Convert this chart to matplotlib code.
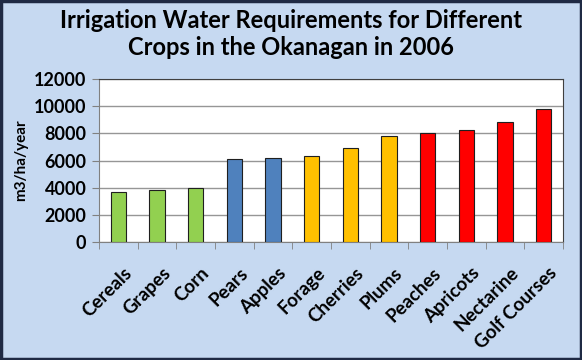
import matplotlib.pyplot as plt
import numpy as np

crops = ["Cereals", "Grapes", "Corn", "Pears", "Apples", "Forage", "Cherries",
         "Plums", "Peaches", "Apricots", "Nectarine", "Golf Courses"]
water = [3700, 3800, 4000, 6100, 6200, 6300, 6900, 7800, 8000, 8250, 8800, 9800]
groups = ["field", "field", "field", "pome", "pome", "other", "other", "other",
          "stone", "stone", "stone", "stone"]
group_colors = {"field": "#92D050", "pome": "#4F81BD", "other": "#FFC000", "stone": "#FF0000"}
yticks = [0, 2000, 4000, 6000, 8000, 10000, 12000]

plt.rcParams['font.family'] = ['Lato', 'DejaVu Sans']

fig = plt.figure(figsize=(5.82, 3.6), dpi=100, facecolor="#C6D9F1")
ax = fig.add_axes([99 / 582, 1 - 242 / 360, 464 / 582, 163 / 360])

x = np.arange(len(crops))
colors = [group_colors[g] for g in groups]
ax.bar(x, water, width=0.4, color=colors, edgecolor="#1F1F1F", linewidth=0.8, zorder=3)

ax.set_xlim(-0.5, len(crops) - 0.5)
ax.set_ylim(0, 12000)
ax.set_yticks(yticks)
ax.set_yticklabels([str(t) for t in yticks], fontsize=13, fontweight="bold")
ax.yaxis.grid(True, color="#969696", linewidth=1, zorder=0)

ax.set_xticks(x + 0.12)
ax.set_xticklabels(crops, rotation=45, ha="right", rotation_mode="anchor",
                   fontsize=13.5, fontweight="bold")
ax.tick_params(axis="x", which="major", length=0, pad=16)
ax.set_xticks(np.arange(-0.5, len(crops)), minor=True)
ax.tick_params(axis="x", which="minor", length=5, color="#808080")
ax.tick_params(axis="y", length=5, color="#808080", pad=4)

for side in ["left", "bottom"]:
    ax.spines[side].set_color("#808080")
for side in ["top", "right"]:
    ax.spines[side].set_color("#404040")

ax.set_ylabel("m3/ha/year", fontsize=11, fontweight="bold", labelpad=4)

fig.text(0.5, 1 - 34 / 360, "Irrigation Water Requirements for Different\nCrops in the Okanagan in 2006",
         ha="center", va="center", fontsize=17, fontweight="bold", linespacing=1.25)

# dark outer border
fig.patches.append(plt.Rectangle((0.002, 0.003), 0.996, 0.994, transform=fig.transFigure,
                                 fill=False, edgecolor="#1F2A44", linewidth=2.5))

fig.savefig("out.png", dpi=100, facecolor=fig.get_facecolor())
